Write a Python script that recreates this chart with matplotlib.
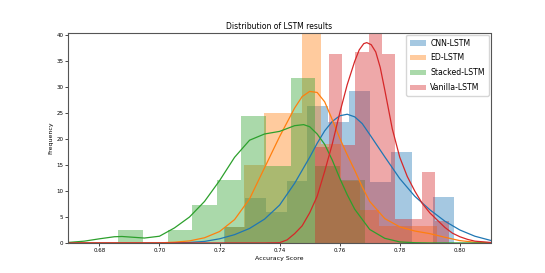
import matplotlib
matplotlib.use("Agg")
import matplotlib.pyplot as plt
import numpy as np

# series names (legend order)
labels = ["CNN-LSTM", "ED-LSTM", "Stacked-LSTM", "Vanilla-LSTM"]
colors = ["#1f77b4", "#ff7f0e", "#2ca02c", "#d62728"]

# histogram bins: first left edge, bin width, bar heights
cnn_start, cnn_width = 0.7214, 0.006967
cnn_heights = [3.0, 8.7, 6.0, 11.9, 26.3, 23.3, 29.2, 11.8, 17.6, 0.0, 8.8]

ed_start, ed_width = 0.7219, 0.0064
ed_heights = [3.0, 15.0, 25.1, 25.1, 42.5, 19.0, 12.0, 6.3, 3.2, 3.2, 3.2]

stacked_start, stacked_width = 0.6863, 0.0082
stacked_heights = [2.5, 0.0, 2.5, 7.4, 12.2, 24.5, 14.8, 31.8, 14.8, 12.2]

vanilla_start, vanilla_width = 0.7519, 0.004433
vanilla_heights = [18.4, 36.5, 18.8, 36.7, 45.0, 36.5, 4.6, 4.6, 13.7, 4.3]

# density curves
cnn_kde_x = [0.67, 0.70, 0.71, 0.715, 0.72, 0.725, 0.73, 0.735, 0.74, 0.745, 0.75, 0.7525,
             0.755, 0.7575, 0.76, 0.7625, 0.765, 0.7675, 0.77, 0.775, 0.78, 0.785, 0.79,
             0.795, 0.80, 0.805, 0.8102]
cnn_kde_y = [0.0, 0.0, 0.1, 0.3, 0.8, 1.6, 2.8, 4.6, 7.3, 11.5, 16.5, 19.2,
             21.6, 23.4, 24.5, 24.8, 24.3, 23.0, 20.9, 16.6, 12.4, 9.0, 6.4,
             4.2, 2.5, 1.3, 0.5]

ed_kde_x = [0.67, 0.695, 0.70, 0.705, 0.71, 0.715, 0.72, 0.725, 0.73, 0.735, 0.74, 0.745,
            0.7475, 0.75, 0.7525, 0.755, 0.7575, 0.76, 0.7625, 0.765, 0.7675, 0.77, 0.775,
            0.78, 0.785, 0.79, 0.795, 0.80, 0.805, 0.8102]
ed_kde_y = [0.0, 0.0, 0.02, 0.15, 0.4, 1.0, 2.2, 4.5, 8.5, 14.5, 20.5, 26.0,
            28.2, 29.2, 29.0, 27.2, 23.8, 20.2, 17.0, 14.0, 10.8, 8.0, 4.7,
            3.1, 2.3, 1.8, 1.1, 0.45, 0.15, 0.05]

stacked_kde_x = [0.6696, 0.675, 0.68, 0.685, 0.6875, 0.69, 0.695, 0.70, 0.705, 0.71, 0.715,
                 0.72, 0.725, 0.73, 0.735, 0.74, 0.745, 0.748, 0.75, 0.7525, 0.755, 0.7575,
                 0.76, 0.7625, 0.765, 0.77, 0.775, 0.78, 0.785, 0.79, 0.8102]
stacked_kde_y = [0.1, 0.35, 0.8, 1.2, 1.25, 1.15, 0.95, 1.3, 2.9, 5.0, 8.0,
                 12.0, 16.5, 19.8, 21.0, 21.5, 22.6, 22.8, 22.4, 21.0, 19.0, 16.0,
                 12.5, 9.3, 6.5, 2.6, 0.9, 0.2, 0.05, 0.0, 0.0]

vanilla_kde_x = [0.67, 0.735, 0.74, 0.7425, 0.745, 0.7475, 0.75, 0.7525, 0.755, 0.7575, 0.76,
                 0.7625, 0.765, 0.7665, 0.768, 0.769, 0.7705, 0.772, 0.7735, 0.775, 0.7775,
                 0.78, 0.7825, 0.785, 0.7875, 0.79, 0.7925, 0.795, 0.7975, 0.80, 0.8025,
                 0.805, 0.8102]
vanilla_kde_y = [0.0, 0.0, 0.05, 0.6, 1.8, 3.3, 5.8, 9.0, 13.8, 19.0, 25.0,
                 30.5, 35.0, 37.2, 38.4, 38.6, 38.2, 36.8, 33.8, 29.5, 22.0,
                 16.5, 12.8, 10.0, 7.6, 5.8, 4.4, 3.0, 1.9, 1.2, 0.7,
                 0.35, 0.1]

hists = [(cnn_start, cnn_width, cnn_heights),
         (ed_start, ed_width, ed_heights),
         (stacked_start, stacked_width, stacked_heights),
         (vanilla_start, vanilla_width, vanilla_heights)]
kdes = [(cnn_kde_x, cnn_kde_y), (ed_kde_x, ed_kde_y),
        (stacked_kde_x, stacked_kde_y), (vanilla_kde_x, vanilla_kde_y)]

fig, ax = plt.subplots(figsize=(5.45, 2.73), dpi=100)

handles = []
for (start, w, h), (kx, ky), lab, c in zip(hists, kdes, labels, colors):
    h = np.array(h)
    lefts = start + w * np.arange(len(h))
    bars = ax.bar(lefts, h, width=w, align="edge", color=c, alpha=0.4,
                  linewidth=0, label=lab)
    handles.append(bars)
    ax.plot(kx, ky, color=c, lw=0.9)

ax.set_xlim(0.6696, 0.8102)
ax.set_ylim(0, 40.5)
ax.set_xticks(np.arange(0.68, 0.801, 0.02))
ax.set_xticklabels(["%.2f" % t for t in np.arange(0.68, 0.801, 0.02)])
ax.set_yticks(range(0, 41, 5))
ax.tick_params(labelsize=4, length=2, width=0.5, pad=1.5)
for s in ax.spines.values():
    s.set_linewidth(0.8)
    s.set_color("#555555")

ax.set_title("Distribution of LSTM results", fontsize=5.5, pad=3)
ax.set_xlabel("Accuracy Score", fontsize=4.5, labelpad=2)
ax.set_ylabel("Frequency", fontsize=4.5, labelpad=2)

ax.legend(handles, labels, loc="upper right", fontsize=5.6,
          borderaxespad=0.25, handlelength=2.0, handletextpad=0.6,
          labelspacing=0.75, borderpad=0.5)

fig.savefig("out.png", dpi=100)
